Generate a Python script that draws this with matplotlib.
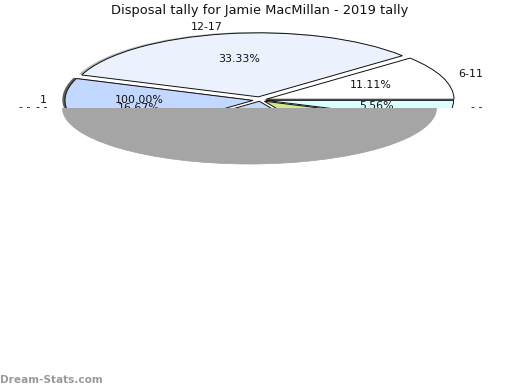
import matplotlib
matplotlib.use("Agg")
import matplotlib.pyplot as plt
from matplotlib.patches import Ellipse, Rectangle

title = "Disposal tally for Jamie MacMillan - 2019 tally"
counts = [2, 6, 3, 4, 2, 1]
colors = ["#ffffff", "#ebf2fe", "#c3d8fe", "#c3d8fe", "#cfe88a", "#d9ffff"]
explode = [0.034, 0.05, 0.038, 0.02, 0.03, 0.03]
shadow_colors = ["none", "#b4b4b4", "#5f5f5f", "none", "none", "#5f5f5f"]

pct_labels = ["33.33%", "11.11%", "5.56%", "100.00%", "16.67%"]
pct_x = [239, 371, 377, 139, 139]
pct_y = [59, 85, 106, 100, 108]
cat_labels = ["12-17", "6-11", "1", "- -", "- -", "- -"]
cat_x = [207, 471, 43, 25, 42, 476.5]
cat_y = [27, 74, 100, 107, 107, 107]

W, H = 520, 390
cx, cy, rx, ry = 260, 100, 188, 64
fig = plt.figure(figsize=(W / 100, H / 100), dpi=100, facecolor="white")

ax = fig.add_axes([(cx - rx) / W, 1 - (cy + ry) / H, 2 * rx / W, 2 * ry / H], zorder=1)
shadows, _ = ax.pie(counts, explode=explode, colors=["#5f5f5f"] * len(counts), radius=1,
                    center=(-0.014, 0.012), frame=False)
wedges, _ = ax.pie(counts, explode=explode, colors=colors, radius=1, center=(0, 0),
                   wedgeprops=dict(linewidth=0.7, edgecolor="#111111"), frame=False)
for i, (s, w) in enumerate(zip(shadows, wedges)):
    s.set_zorder(2 * i + 1)
    w.set_zorder(2 * i + 2)
    s.set_facecolor(shadow_colors[i])
    s.set_edgecolor("none")
ax.set_aspect("auto")
ax.set_xlim(-1, 1)
ax.set_ylim(-1, 1)
ax.axis("off")

ov = fig.add_axes([0, 0, 1, 1], zorder=2)
ov.set_xlim(0, W)
ov.set_ylim(H, 0)
ov.axis("off")
ov.patch.set_alpha(0)

for s, x, y in zip(pct_labels, pct_x, pct_y):
    ov.text(x, y, s, fontsize=7.9, ha="center", va="center", color="#111111", zorder=3)
for s, x, y in zip(cat_labels, cat_x, cat_y):
    ov.text(x, y, s, fontsize=7.9, ha="center", va="center", color="#111111", zorder=3)

ov.add_patch(Rectangle((0, 108), W, H - 108, facecolor="white", edgecolor="none", zorder=4))
shade = Ellipse((249.5, 108), 374, 112, facecolor="#a5a5a5", edgecolor="#a0a0a0", linewidth=0.5, zorder=5)
ov.add_patch(shade)
shade.set_clip_path(Rectangle((0, 108), W, H - 108, transform=ov.transData))

ov.text(259.5, 10.5, title, fontsize=9.4, ha="center", va="center", color="#111111", zorder=6)
ov.text(0, 380, "Dream-Stats.com", fontsize=7.6, fontweight="bold", ha="left", va="center",
        color="#9a9a9a", zorder=6)

fig.savefig("out.png", dpi=100)
